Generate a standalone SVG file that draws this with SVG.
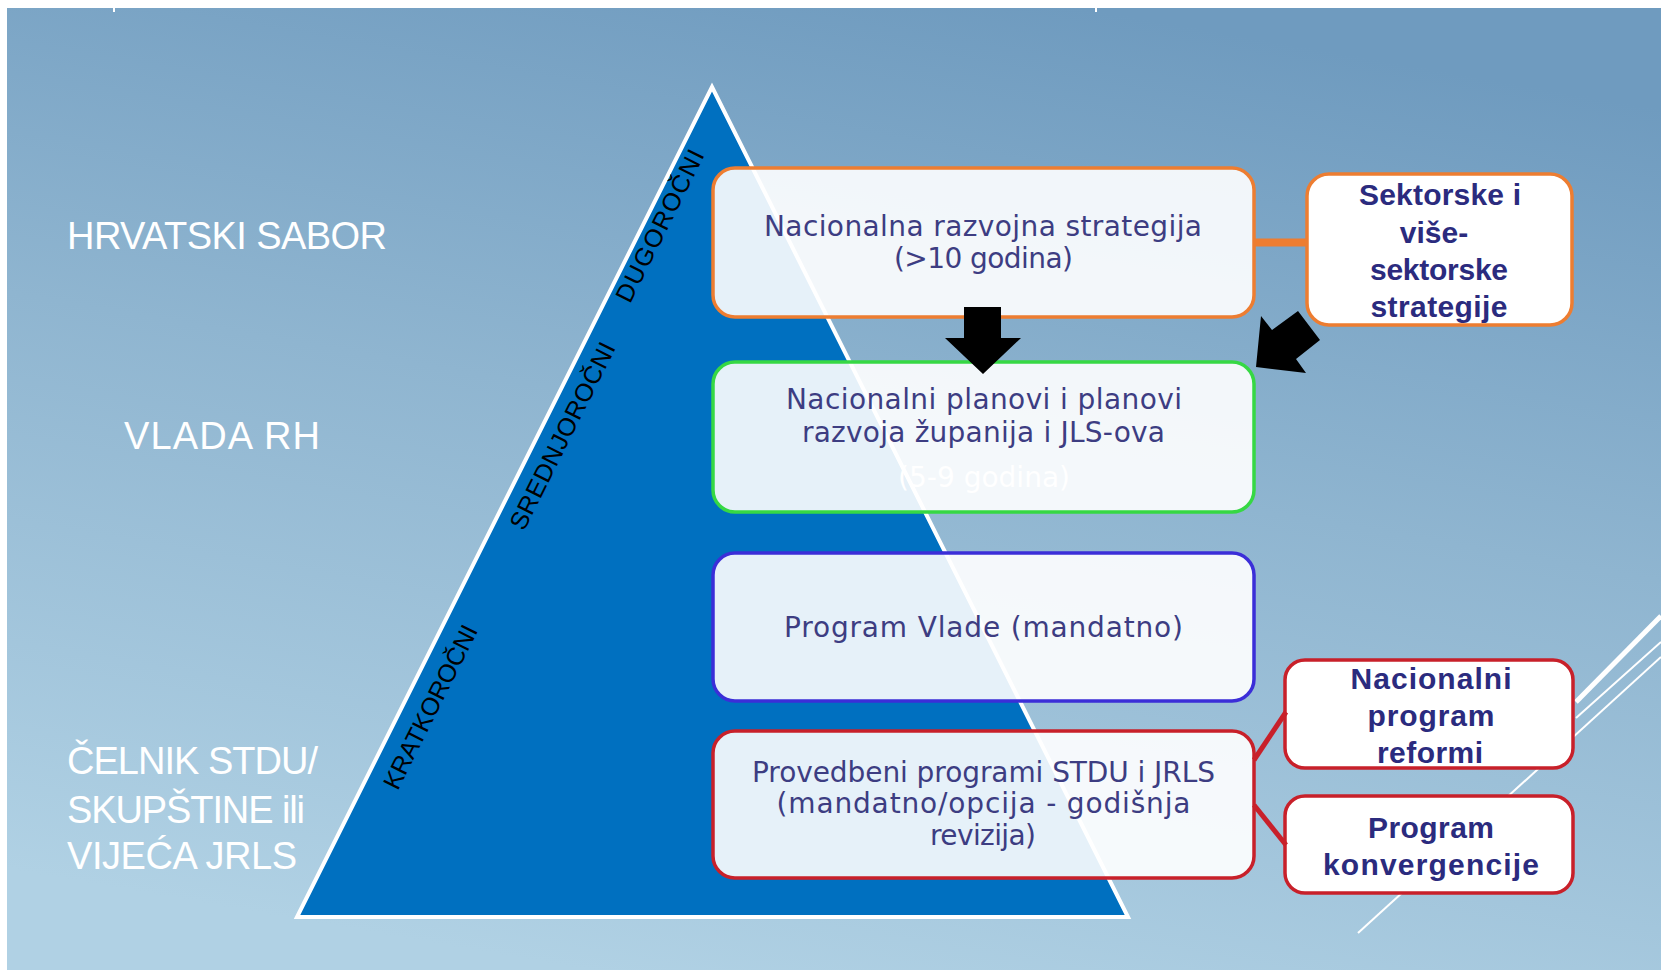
<svg xmlns="http://www.w3.org/2000/svg" width="1661" height="970" viewBox="0 0 1661 970">
  <defs>
    <linearGradient id="bg" x1="0.35" y1="1" x2="0.65" y2="0">
      <stop offset="0" stop-color="#B0D1E4"/>
      <stop offset="0.55" stop-color="#8FB5D0"/>
      <stop offset="1" stop-color="#6F9BBF"/>
    </linearGradient>
    <style>
      .lvl { font-family: "Liberation Sans", Arial, sans-serif; font-size: 38px; fill: #FFFFFF; }
      .rot { font-family: "Liberation Sans", Arial, sans-serif; font-size: 25px; fill: #000000; text-anchor: middle; }
      .box { fill: #FFFFFF; fill-opacity: 0.9; stroke-width: 3.5; }
      .side { fill: #FFFFFF; stroke-width: 3.5; }
      .t { font-family: "DejaVu Sans", Verdana, sans-serif; font-size: 28px; fill: #3D3D82; text-anchor: middle; }
      .b { font-family: "Liberation Sans", Arial, sans-serif; font-size: 30px; font-weight: bold; fill: #2B2B7E; text-anchor: middle; }
      .deco { stroke: #FFFFFF; fill: none; }
    </style>
  </defs>

  <!-- background -->
  <rect x="0" y="0" width="1661" height="970" fill="#FFFFFF"/>
  <rect x="7" y="8" width="1654" height="962" fill="url(#bg)"/>
  <rect x="113" y="8" width="2" height="4" fill="#FFFFFF"/>
  <rect x="1095" y="8" width="2" height="4" fill="#FFFFFF"/>

  <!-- decorative lines -->
  <g id="decor">
    <line class="deco" x1="1661" y1="616" x2="1576" y2="702" stroke-width="5"/>
    <line class="deco" x1="1661" y1="642" x2="1576" y2="718" stroke-width="2"/>
    <line class="deco" x1="1661" y1="657" x2="1358" y2="933" stroke-width="2"/>
  </g>

  <!-- pyramid -->
  <g id="pyramid">
    <polygon points="712,87 1128,917 297,917" fill="#0070C0" stroke="#FFFFFF" stroke-width="4" stroke-linejoin="miter"/>
    <text class="rot" transform="translate(667.5,229.5) rotate(-63.4)" textLength="167" lengthAdjust="spacing">DUGOROČNI</text>
    <text class="rot" transform="translate(570,439.7) rotate(-63.4)" textLength="206" lengthAdjust="spacing">SREDNJOROČNI</text>
    <text class="rot" transform="translate(438,710.7) rotate(-63.4)" textLength="180" lengthAdjust="spacing">KRATKOROČNI</text>
  </g>

  <!-- level labels -->
  <g id="levels">
    <text class="lvl" x="67" y="249" textLength="320" lengthAdjust="spacing">HRVATSKI SABOR</text>
    <text class="lvl" x="124" y="449" textLength="196" lengthAdjust="spacing">VLADA RH</text>
    <text class="lvl" x="67" y="774" textLength="251" lengthAdjust="spacing">ČELNIK STDU/</text>
    <text class="lvl" x="67" y="823" textLength="238" lengthAdjust="spacing">SKUPŠTINE ili</text>
    <text class="lvl" x="67" y="869" textLength="230" lengthAdjust="spacing">VIJEĆA JRLS</text>
  </g>

  <!-- main boxes -->
  <g id="node-strategija">
    <rect class="box" x="713" y="168" width="541" height="149" rx="22" stroke="#ED7D31"/>
    <text class="t" x="983" y="236" textLength="438" lengthAdjust="spacing">Nacionalna razvojna strategija</text>
    <text class="t" x="983.5" y="268" textLength="179" lengthAdjust="spacing">(&gt;10 godina)</text>
  </g>

  <g id="node-planovi">
    <rect class="box" x="713" y="362" width="541" height="150" rx="22" stroke="#36D844"/>
    <text class="t" x="984" y="409" textLength="396" lengthAdjust="spacing">Nacionalni planovi i planovi</text>
    <text class="t" x="983.5" y="442" textLength="363" lengthAdjust="spacing">razvoja županija i JLS-ova</text>
    <text class="t" x="984" y="487" textLength="172" lengthAdjust="spacing" style="fill:#FFFFFF">(5-9 godina)</text>
  </g>

  <g id="node-program-vlade">
    <rect class="box" x="713" y="553" width="541" height="148" rx="22" stroke="#3B2ED8"/>
    <text class="t" x="983.5" y="637" textLength="399" lengthAdjust="spacing">Program Vlade (mandatno)</text>
  </g>

  <g id="node-provedbeni">
    <rect class="box" x="713" y="731" width="541" height="147" rx="22" stroke="#C8202A"/>
    <text class="t" x="983.5" y="782" textLength="463" lengthAdjust="spacing">Provedbeni programi STDU i JRLS</text>
    <text class="t" x="983.5" y="813" textLength="414" lengthAdjust="spacing">(mandatno/opcija - godišnja</text>
    <text class="t" x="983" y="845" textLength="106" lengthAdjust="spacing">revizija)</text>
  </g>

  <!-- side boxes -->
  <g id="node-sektorske">
    <rect class="side" x="1307" y="174" width="265" height="151" rx="22" stroke="#ED7D31"/>
    <text class="b" x="1440" y="205" textLength="162" lengthAdjust="spacing">Sektorske i</text>
    <text class="b" x="1434" y="243">više-</text>
    <text class="b" x="1439" y="280" textLength="138" lengthAdjust="spacing">sektorske</text>
    <text class="b" x="1439" y="317" textLength="137" lengthAdjust="spacing">strategije</text>
  </g>

  <g id="node-npr">
    <rect class="side" x="1285" y="660" width="288" height="108" rx="20" stroke="#C8202A"/>
    <text class="b" x="1431" y="689" textLength="161" lengthAdjust="spacing">Nacionalni</text>
    <text class="b" x="1431" y="726" textLength="127" lengthAdjust="spacing">program</text>
    <text class="b" x="1430" y="763" textLength="106" lengthAdjust="spacing">reformi</text>
  </g>

  <g id="node-konvergencija">
    <rect class="side" x="1285" y="796" width="288" height="97" rx="20" stroke="#C8202A"/>
    <text class="b" x="1431" y="838" textLength="126" lengthAdjust="spacing">Program</text>
    <text class="b" x="1431" y="875" textLength="216" lengthAdjust="spacing">konvergencije</text>
  </g>

  <!-- connectors -->
  <g id="connectors">
    <line x1="1254" y1="242.5" x2="1307" y2="242.5" stroke="#ED7D31" stroke-width="8"/>
    <line x1="1254" y1="760" x2="1286" y2="712" stroke="#C8202A" stroke-width="5"/>
    <line x1="1254" y1="805" x2="1286" y2="845" stroke="#C8202A" stroke-width="5"/>
    <polygon points="964,307 1001,307 1001,338 1021,338 983,374 945,338 964,338" fill="#000000"/>
    <polygon points="1256,367 1261,316 1272,330 1298,311 1320,340 1296,359 1306,373" fill="#000000"/>
  </g>
</svg>
